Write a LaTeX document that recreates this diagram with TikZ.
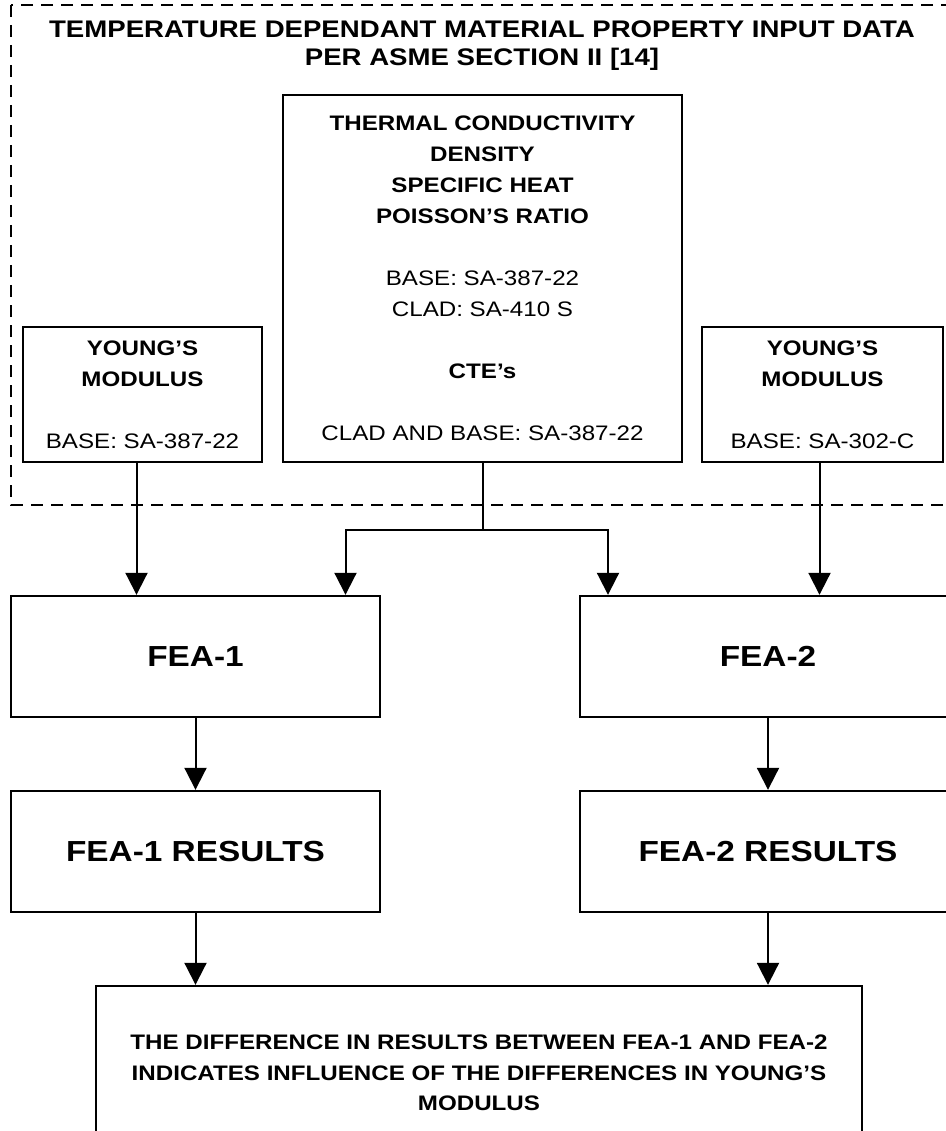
\documentclass[tikz,border=0pt]{standalone}
\usepackage{fontspec}
\setmainfont[FakeStretch=1.15]{Liberation Sans}
\usetikzlibrary{arrows.meta, positioning, calc}

\begin{document}
\begin{tikzpicture}[x=1pt, y=-1pt,
		blk/.style={draw, line width=2.4pt, align=center, inner sep=0pt},
		conn/.style={line width=2pt, -{Triangle[length=22pt, width=22pt]}},
		frame/.style={line width=1.6pt, dash pattern=on 12pt off 8pt}]
		
		\useasboundingbox (0,0) rectangle (945,1131);
		
		% Dashed input data frame
		\draw[frame] (11,5) rectangle (962,505);
		\node[align=center, font=\fontsize{24}{28}\selectfont\bfseries] (title) at (482,46)
		{TEMPERATURE DEPENDANT MATERIAL PROPERTY INPUT DATA\\ PER ASME SECTION II [14]};
		
		% Material property boxes
		\node[blk, minimum width=399pt, minimum height=367pt, font=\fontsize{21}{31}\selectfont] (props) at (482.5,278.5)
		{\textbf{THERMAL CONDUCTIVITY}\\ \textbf{DENSITY}\\ \textbf{SPECIFIC HEAT}\\ \textbf{POISSON'S RATIO}\\[31pt]
			BASE: SA-387-22\\ CLAD: SA-410 S\\[31pt] \textbf{CTE's}\\[31pt] CLAD AND BASE: SA-387-22};
		\node[blk, minimum width=239pt, minimum height=135pt, font=\fontsize{21}{31}\selectfont] (youngA) at (142.5,394.5)
		{\textbf{YOUNG'S}\\ \textbf{MODULUS}\\[31pt] BASE: SA-387-22};
		\node[blk, minimum width=241pt, minimum height=135pt, font=\fontsize{21}{31}\selectfont] (youngB) at (822.5,394.5)
		{\textbf{YOUNG'S}\\ \textbf{MODULUS}\\[31pt] BASE: SA-302-C};
		
		% Analyses and results
		\node[blk, minimum width=369pt, minimum height=121pt, font=\fontsize{29}{34}\selectfont\bfseries] (fea1) at (195.5,656.5) {FEA-1};
		\node[blk, minimum width=376pt, minimum height=121pt, font=\fontsize{29}{34}\selectfont\bfseries] (fea2) at (768,656.5) {FEA-2};
		\node[blk, minimum width=369pt, minimum height=121pt, font=\fontsize{29}{34}\selectfont\bfseries] (res1) at (195.5,851.5) {FEA-1 RESULTS};
		\node[blk, minimum width=376pt, minimum height=121pt, font=\fontsize{29}{34}\selectfont\bfseries] (res2) at (768,851.5) {FEA-2 RESULTS};
		\node[blk, minimum width=766pt, minimum height=174pt, font=\fontsize{21}{30.5}\selectfont\bfseries] (diff) at (479,1073)
		{THE DIFFERENCE IN RESULTS BETWEEN FEA-1 AND FEA-2\\ INDICATES INFLUENCE OF THE DIFFERENCES IN YOUNG'S\\ MODULUS};
		
		% Connectors
		\coordinate (split) at ($(props.south)+(0,67)$);
		\draw[line width=2pt] (props.south) -- (split);
		\draw[conn] (split) -| ([xshift=150pt]fea1.north);
		\draw[conn] (split) -| ([xshift=-160pt]fea2.north);
		\draw[conn] ([xshift=-6pt]youngA.south) -- ([xshift=-6pt]youngA.south |- fea1.north);
		\draw[conn] ([xshift=-3pt]youngB.south) -- ([xshift=-3pt]youngB.south |- fea2.north);
		\draw[conn] (fea1.south) -- (res1.north);
		\draw[conn] (fea2.south) -- (res2.north);
		\draw[conn] (res1.south) -- (res1.south |- diff.north);
		\draw[conn] (res2.south) -- (res2.south |- diff.north);
		
	\end{tikzpicture}
\end{document}
